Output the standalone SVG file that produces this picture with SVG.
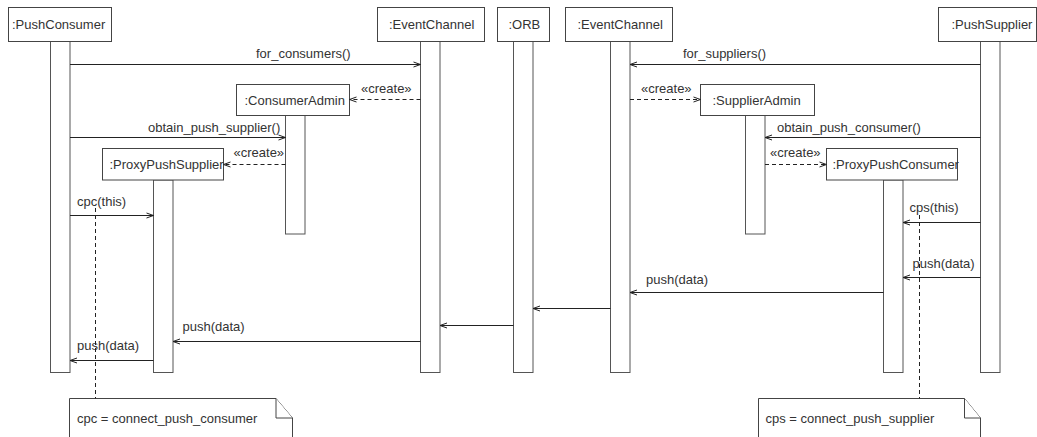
<svg xmlns="http://www.w3.org/2000/svg" width="1037" height="437" viewBox="0 0 1037 437">
<style>
text{font-family:"Liberation Sans",Arial,sans-serif;font-size:13px;fill:#333}
.box{fill:#fff;stroke:#444;stroke-width:1}
.act{fill:#fff;stroke:#555;stroke-width:1}
.msg{fill:none;stroke:#222;stroke-width:1;marker-end:url(#arr)}
.dash{fill:none;stroke:#222;stroke-width:1;stroke-dasharray:4,3;marker-end:url(#arr)}
.anchor{fill:none;stroke:#222;stroke-width:1;stroke-dasharray:4,3}
.note{fill:#fff;stroke:#444;stroke-width:1}
</style>
<defs>
<marker id="arr" markerWidth="10" markerHeight="8" refX="8" refY="4" orient="auto" markerUnits="userSpaceOnUse">
<path d="M1,1.5 L8,4 L1,6.5" fill="none" stroke="#222" stroke-width="1"/>
</marker>
</defs>
<rect width="1037" height="437" fill="#fff"/>

<g id="pushConsumer">
<rect class="act" x="50.5" y="41.5" width="19.5" height="331"/>
<rect class="box" x="8.5" y="7.5" width="103" height="34"/>
<text x="12" y="28.5">:PushConsumer</text>
</g>
<g id="eventChannel1">
<rect class="act" x="420.5" y="41.5" width="19.5" height="331"/>
<rect class="box" x="377.5" y="7.5" width="107" height="34"/>
<text x="389" y="28.5">:EventChannel</text>
</g>
<g id="orb">
<rect class="act" x="513.5" y="41.5" width="19.5" height="331"/>
<rect class="box" x="497.5" y="7.5" width="52" height="34"/>
<text x="508.5" y="28.5">:ORB</text>
</g>
<g id="eventChannel2">
<rect class="act" x="610.5" y="41.5" width="19.5" height="331"/>
<rect class="box" x="565.5" y="7.5" width="107" height="34"/>
<text x="577.5" y="28.5">:EventChannel</text>
</g>
<g id="pushSupplier">
<rect class="act" x="980.5" y="41.5" width="19.5" height="331"/>
<rect class="box" x="938.5" y="7.5" width="98" height="34"/>
<text x="951.5" y="28.5">:PushSupplier</text>
</g>
<g id="consumerAdmin">
<rect class="act" x="285.5" y="115.5" width="19.5" height="118.5"/>
<rect class="box" x="236.5" y="84.5" width="113" height="31"/>
<text x="244.5" y="105">:ConsumerAdmin</text>
</g>
<g id="supplierAdmin">
<rect class="act" x="745.5" y="115.5" width="19.5" height="118.5"/>
<rect class="box" x="700.5" y="84.5" width="114" height="31"/>
<text x="712.5" y="105">:SupplierAdmin</text>
</g>
<g id="proxyPushSupplier">
<rect class="act" x="153.5" y="180" width="19.5" height="192.5"/>
<rect class="box" x="102.5" y="148.5" width="121" height="31.5"/>
<text x="109.5" y="169">:ProxyPushSupplier</text>
</g>
<g id="proxyPushConsumer">
<rect class="act" x="883.5" y="180" width="19.5" height="192.5"/>
<rect class="box" x="826.5" y="148.5" width="131" height="31.5"/>
<text x="832.5" y="169">:ProxyPushConsumer</text>
</g>
<g id="noteCpc">
<path class="note" d="M69.5,440 L69.5,398.5 L276,398.5 L292.5,418 L292.5,440"/>
<path class="note" d="M276,398.5 L276,418 L292.5,418"/>
<text x="77" y="423">cpc = connect_push_consumer</text>
</g>
<g id="noteCps">
<path class="note" d="M758.5,440 L758.5,398.5 L964.5,398.5 L980.5,418 L980.5,440"/>
<path class="note" d="M964.5,398.5 L964.5,418 L980.5,418"/>
<text x="765.5" y="423">cps = connect_push_supplier</text>
</g>

<g id="connectors">
<path class="msg" d="M70,64.5 H420.5"/>
<text x="256" y="57.5">for_consumers()</text>
<path class="dash" d="M420.5,99.5 H349.5"/>
<text x="361" y="92.5">«create»</text>
<path class="msg" d="M980.5,64.5 H630"/>
<text x="683" y="57.5">for_suppliers()</text>
<path class="dash" d="M630,99.5 H700.5"/>
<text x="641" y="92.5">«create»</text>
<path class="msg" d="M70,137.5 H285.5"/>
<text x="148" y="131.5">obtain_push_supplier()</text>
<path class="dash" d="M285.5,164.5 H223.5"/>
<text x="233.5" y="157">«create»</text>
<path class="msg" d="M980.5,137.5 H765"/>
<text x="777" y="131.5">obtain_push_consumer()</text>
<path class="dash" d="M765,164.5 H826.5"/>
<text x="770" y="157">«create»</text>
<path class="msg" d="M70,215.5 H153.5"/>
<text x="77" y="206">cpc(this)</text>
<path class="msg" d="M980.5,222.5 H903"/>
<text x="909.5" y="212">cps(this)</text>
<path class="msg" d="M980.5,277.5 H903"/>
<text x="912.5" y="267.5">push(data)</text>
<path class="msg" d="M883.5,292.5 H630"/>
<text x="646" y="283.5">push(data)</text>
<path class="msg" d="M610.5,308.5 H533"/>
<path class="msg" d="M513.5,325.5 H440"/>
<path class="msg" d="M420.5,341.5 H173"/>
<text x="182.5" y="330.5">push(data)</text>
<path class="msg" d="M153.5,360.5 H70"/>
<text x="77" y="349.5">push(data)</text>
<path class="anchor" d="M95.5,208 V398.5"/>
<path class="anchor" d="M919.5,215 V398.5"/>
</g>
</svg>
